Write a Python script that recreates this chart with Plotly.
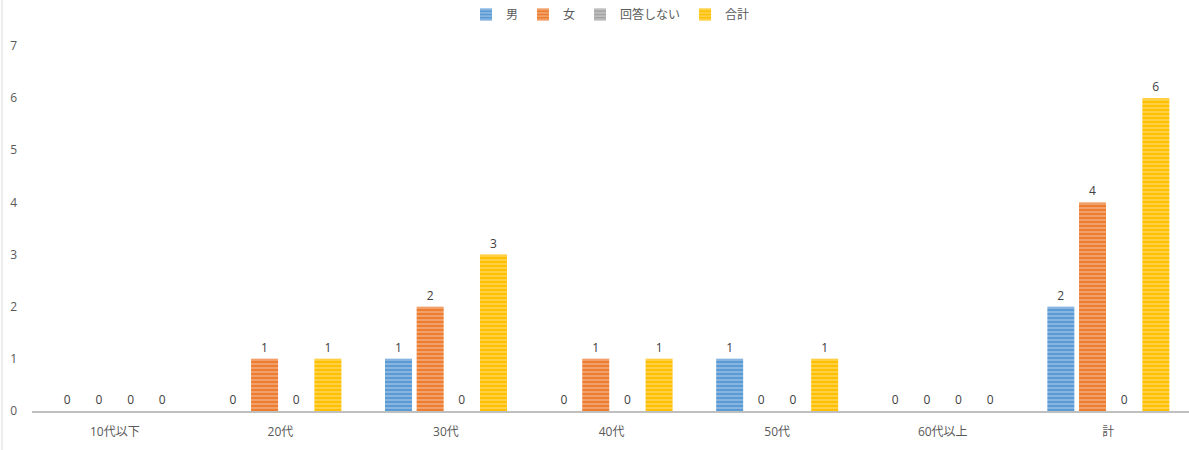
import plotly.graph_objects as go

categories = ["10代以下", "20代", "30代", "40代", "50代", "60代以上", "計"]
male = [0, 0, 1, 0, 1, 0, 2]
female = [0, 1, 2, 1, 0, 0, 4]
no_answer = [0, 0, 0, 0, 0, 0, 0]
total = [0, 1, 3, 1, 1, 0, 6]

series = [
    ("男", male, "#5B9BD5", "#BCD6EE"),
    ("女", female, "#ED7D31", "#F8CBAD"),
    ("回答しない", no_answer, "#A5A5A5", "#DBDBDB"),
    ("合計", total, "#FFC000", "#FFE699"),
]

label_font = dict(size=12, color="#404040", family="Open Sans, Liberation Sans, sans-serif")

fig = go.Figure()
for name, vals, color, light in series:
    fig.add_trace(go.Bar(
        name=name, x=categories, y=vals,
        marker=dict(color=color, line=dict(width=0),
                    pattern=dict(shape="-", fgcolor=light, bgcolor=color,
                                 size=4, solidity=0.45, fillmode="overlay")),
        text=[str(v) for v in vals], textposition="outside",
        textfont=label_font, outsidetextfont=label_font,
        cliponaxis=False,
    ))

fig.update_layout(
    width=1189, height=450,
    margin=dict(l=32, r=0, t=46, b=39, autoexpand=False),
    paper_bgcolor="white", plot_bgcolor="white",
    barmode="group", bargap=0.235, bargroupgap=0.147,
    font=dict(family="Open Sans, Noto Sans CJK JP, sans-serif", size=12, color="#595959"),
    legend=dict(orientation="h", x=0.5, xanchor="center", xref="paper",
                y=1.0, yanchor="top", yref="container",
                font=dict(size=12, color="#595959"),
                itemwidth=30, tracegroupgap=0),
    xaxis=dict(range=[-0.5, 6.487], showgrid=False, showline=True, linecolor="#BFBFBF",
               linewidth=2, ticks="", ticklabelstandoff=9,
               tickfont=dict(size=12, color="#595959"), fixedrange=True),
    yaxis=dict(range=[0, 7], dtick=1, showgrid=False, zeroline=False, showline=False,
               ticks="", ticklabelstandoff=14,
               tickfont=dict(size=12, color="#595959"), fixedrange=True),
)

fig.add_shape(type="line", xref="paper", yref="paper",
              x0=-0.0259, x1=-0.0259, y0=-0.2, y1=1.2,
              line=dict(color="#D9D9D9", width=1))

fig.write_html("out.html", config={"displayModeBar": False},
               post_script="document.body.style.margin='0';document.body.style.overflow='hidden';")
